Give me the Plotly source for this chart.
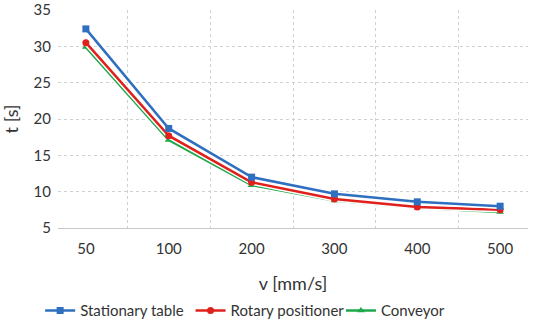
import plotly.graph_objects as go

speeds = ["50", "100", "200", "300", "400", "500"]
stationary = [32.4, 18.7, 12.0, 9.7, 8.6, 8.0]
rotary = [30.5, 17.7, 11.3, 9.0, 7.9, 7.5]
conveyor = [29.9, 17.1, 10.9, 8.8, 7.8, 7.2]

series = [
    ("Stationary table", stationary, "#2E6FC0", "square"),
    ("Rotary positioner", rotary, "#E0201B", "circle"),
    ("Conveyor", conveyor, "#1FA84A", "triangle-up"),
]

fig = go.Figure()
for i, (name, vals, color, sym) in enumerate(reversed(series)):
    fig.add_trace(go.Scatter(x=speeds, y=vals, mode="lines",
                             line=dict(color="white", width=5.5),
                             showlegend=False, hoverinfo="skip"))
    fig.add_trace(go.Scatter(x=speeds, y=vals, name=name, mode="lines+markers",
                             line=dict(color=color, width=2.5),
                             marker=dict(symbol=sym, size=7, color=color),
                             legendrank=3 - i))

font = "Lato, 'Open Sans', sans-serif"
fig.update_layout(
    width=550, height=330,
    margin=dict(l=58, r=22, t=10, b=102),
    paper_bgcolor="white", plot_bgcolor="white",
    font=dict(family=font, size=15, color="#333333"),
    legend=dict(orientation="h", xref="container", x=0.073, xanchor="left",
                yref="container", y=0.058, yanchor="middle",
                font=dict(size=15), traceorder="normal", itemwidth=30,
                entrywidth=0.32, entrywidthmode="fraction"),
    xaxis=dict(type="category", tickson="boundaries", showgrid=True,
               gridcolor="#D0D0D0", griddash="dot", gridwidth=1,
               showline=True, linecolor="#C8C8C8", linewidth=1,
               ticks="", ticklabelstandoff=7, automargin=False,
               title=dict(text="v [mm/s]", standoff=33),
               tickfont=dict(size=15)),
    yaxis=dict(range=[5, 35], dtick=5, showgrid=True, gridcolor="#D0D0D0",
               griddash="dot", gridwidth=1, zeroline=False, showline=False,
               ticks="", ticklabelstandoff=6, automargin=False,
               title=dict(text="t [s]", standoff=13),
               tickfont=dict(size=15)),
)

fig.write_html("out.html", config={"displayModeBar": False},
               post_script="document.body.style.margin='0px';document.body.style.overflow='hidden';")
